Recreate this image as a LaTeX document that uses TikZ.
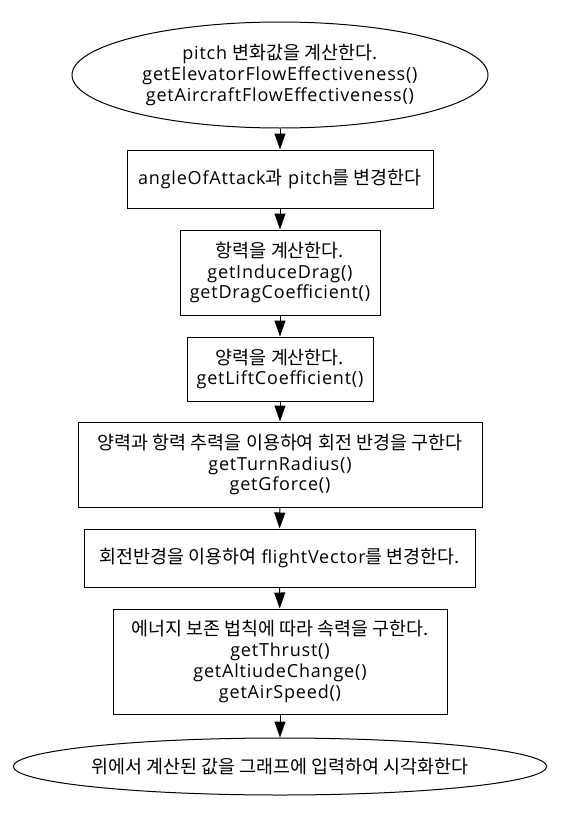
\documentclass[tikz,border=0pt]{standalone}
\usepackage{fontspec}
\setmainfont[LetterSpace=4.5]{Open Sans}
\newfontfamily\kr[Scale=1.025]{Noto Sans CJK KR}
\usetikzlibrary{arrows.meta,positioning,shapes.geometric}

\begin{document}
\begin{tikzpicture}[x=1pt,y=-1pt,>={Triangle[length=16pt,width=11pt]},font=\fontsize{18}{20.7}\selectfont]
	\useasboundingbox (0,0) rectangle (561,814);
	\tikzset{stepbox/.style={draw,rectangle,line width=1pt,align=center,inner sep=0pt}}
	\tikzset{endpoint/.style={draw,ellipse,line width=1pt,align=center,inner sep=0pt}}
	\node[endpoint,minimum width=416pt,minimum height=106pt] (pitch) at (280,75)
		{pitch {\kr 변화값을 계산한다.}\\getElevatorFlowEffectiveness()\\getAircraftFlowEffectiveness()};
	\node[stepbox,minimum width=306pt,minimum height=58pt] (angle) at (280,179)
		{angleOfAttack{\kr 과} pitch{\kr 를 변경한다}};
	\node[stepbox,minimum width=200pt,minimum height=85pt] (drag) at (280,272.5)
		{{\kr 항력을 계산한다.}\\getInduceDrag()\\getDragCoefficient()};
	\node[stepbox,minimum width=186pt,minimum height=64pt] (lift) at (280,369)
		{{\kr 양력을 계산한다.}\\getLiftCoefficient()};
	\node[stepbox,minimum width=404pt,minimum height=85pt] (turn) at (280,464.5)
		{{\kr 양력과 항력 추력을 이용하여 회전 반경을 구한다}\\getTurnRadius()\\getGforce()};
	\node[stepbox,minimum width=391pt,minimum height=58pt] (vector) at (279.5,558)
		{{\kr 회전반경을 이용하여} flightVector{\kr 를 변경한다.}};
	\node[stepbox,minimum width=334pt,minimum height=105pt] (speed) at (280,661.5)
		{{\kr 에너지 보존 법칙에 따라 속력을 구한다.}\\getThrust()\\getAltiudeChange()\\getAirSpeed()};
	\node[endpoint,minimum width=518pt,minimum height=57pt] (graph) at (280,766.5)
		{{\kr 위에서 계산된 값을 그래프에 입력하여 시각화한다}};
	\path[->,line width=1pt]
	(pitch)  edge (angle)
	(angle)  edge (drag)
	(drag)   edge (lift)
	(lift)   edge (turn)
	(turn)   edge (vector)
	(vector) edge (speed)
	(speed)  edge (graph);
\end{tikzpicture}
\end{document}
